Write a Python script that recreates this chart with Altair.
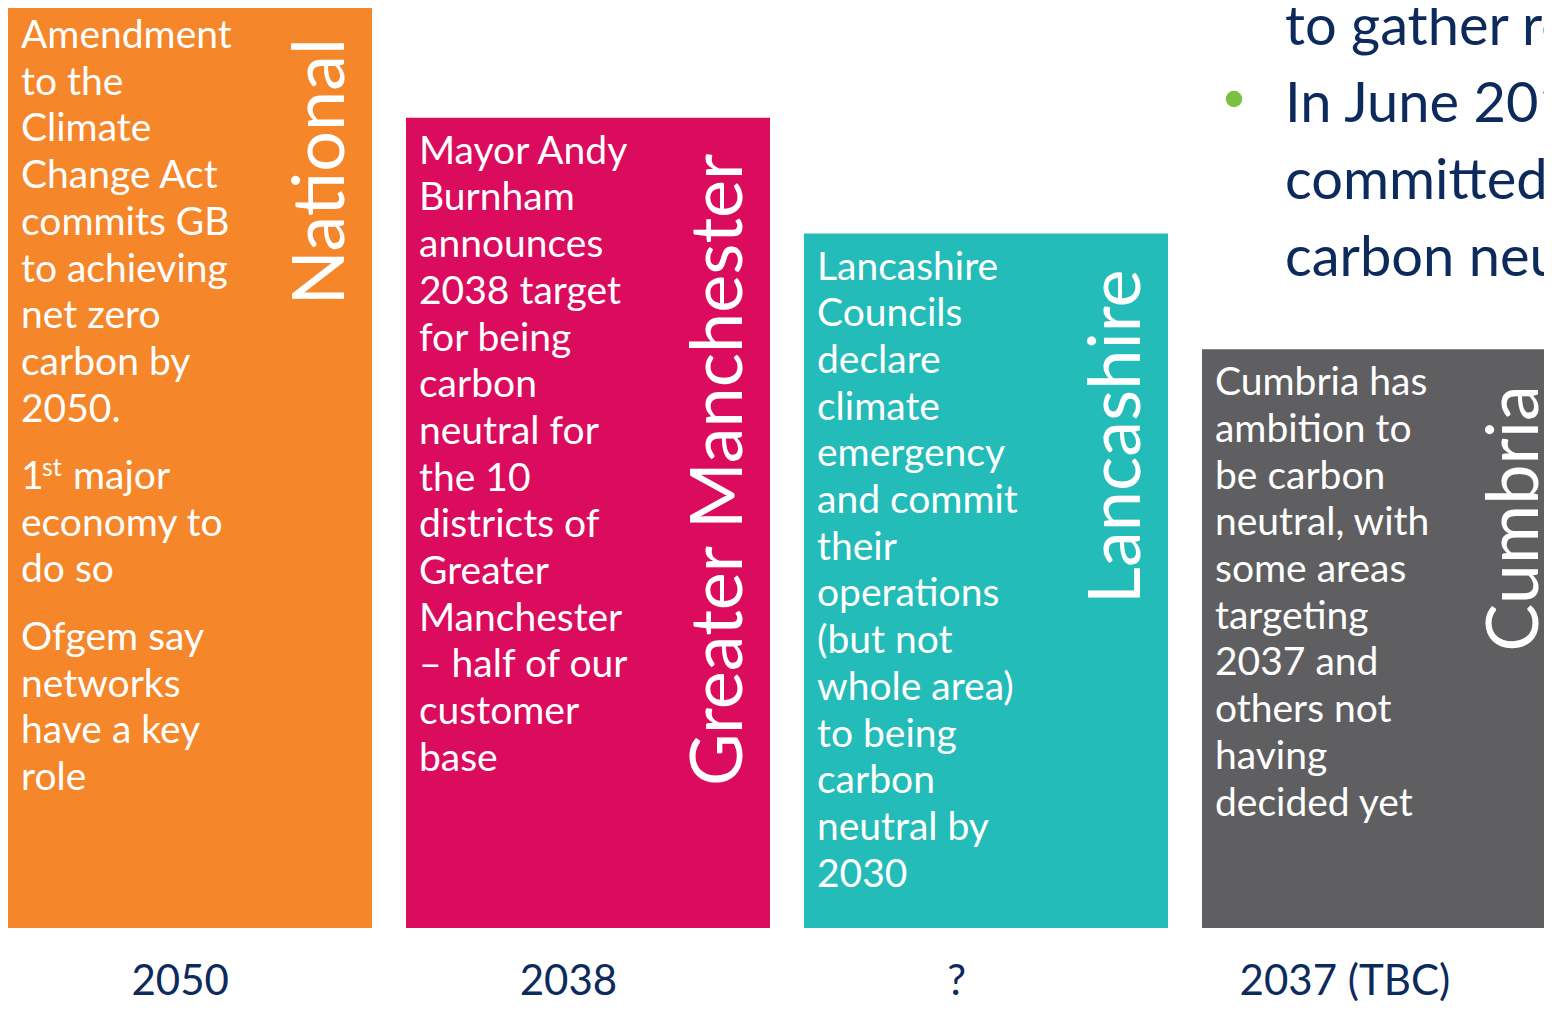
import altair as alt
import pandas as pd

# ---------------- data ----------------
categories = ["National", "Greater Manchester", "Lancashire", "Cumbria"]
levels = [8, 7, 6, 5]
bar_colors = ["#F5862A", "#DB0B5E", "#23BCB8", "#5F5F61"]
years = ["2050", "2038", "?", "2037 (TBC)"]

national_p1 = ["Amendment", "to the", "Climate", "Change Act", "commits GB",
               "to achieving", "net zero", "carbon by", "2050."]
national_p2_num = "1"
national_p2_sup = "st"
national_p2_word = "major"
national_p2_rest = ["economy to", "do so"]
national_p3 = ["Ofgem say", "networks", "have a key", "role"]
gm_lines = ["Mayor Andy", "Burnham", "announces", "2038 target", "for being",
            "carbon", "neutral for", "the 10", "districts of", "Greater",
            "Manchester", "\u2013 half of our", "customer", "base"]
lanc_lines = ["Lancashire", "Councils", "declare", "climate", "emergency",
              "and commit", "their", "operations", "(but not", "whole area)",
              "to being", "carbon", "neutral by", "2030"]
cumbria_lines = ["Cumbria has", "ambition to", "be carbon", "neutral, with",
                 "some areas", "targeting", "2037 and", "others not", "having",
                 "decided yet"]
bullet_lines = ["to gather re", "In June 201", "committed", "carbon neu"]

NAVY = "#0D2A5C"
GREEN = "#7AC143"
FONT = "Lato"
BODY = 39
LH = 46.7

bars = pd.DataFrame({"cat": categories, "level": levels})
first_para = pd.DataFrame({
    "cat": categories,
    "level": levels,
    "text": ["\n".join(national_p1), "\n".join(gm_lines),
             "\n".join(lanc_lines), "\n".join(cumbria_lines)],
})
nat = pd.DataFrame({"cat": [categories[0]], "level": [levels[0]]})

xs = alt.Scale(type="band", domain=categories, range=[0, 1558],
               paddingInner=0.0854, paddingOuter=0)
xs_years = alt.Scale(type="band", domain=categories, range=[-22, 1531],
                     paddingInner=0, paddingOuter=0)
ys = alt.Scale(domain=[0, 8], range=[920, -6], nice=False, zero=False)

X0 = alt.X("cat:N", scale=xs, axis=None, bandPosition=0)
X1 = alt.X("cat:N", scale=xs, axis=None, bandPosition=1)
Y = alt.Y("level:Q", scale=ys, axis=None)

bar_layer = alt.Chart(bars).mark_bar().encode(
    x=alt.X("cat:N", scale=xs, axis=None),
    y=Y,
    color=alt.Color("cat:N", scale=alt.Scale(domain=categories, range=bar_colors), legend=None),
)

def body(df, text, dx, dy, size=BODY):
    return alt.Chart(df).mark_text(
        align="left", baseline="alphabetic", dx=dx, dy=dy, font=FONT,
        fontSize=size, lineHeight=LH, lineBreak="\n", color="white",
    ).encode(x=X0, y=Y, text=text)

p1 = body(first_para, "text:N", 13, 46)
p2a = body(nat, alt.value(national_p2_num), 13, 487)
p2b = body(nat, alt.value(national_p2_sup), 34, 474, size=25)
p2c = body(nat, alt.value(national_p2_word), 65, 487)
p2d = body(nat, alt.value("\n".join(national_p2_rest)), 13, 487 + LH)
p3 = body(nat, alt.value("\n".join(national_p3)), 13, 648)

vertical = alt.Chart(bars).mark_text(
    angle=270, align="right", baseline="alphabetic", dx=-36, dy=-28,
    font=FONT, fontSize=72, color="white",
).encode(x=X1, y=Y, text="cat:N")

year_df = pd.DataFrame({"cat": categories, "year": years})
year_layer = alt.Chart(year_df).mark_text(
    align="center", baseline="alphabetic", dy=67, font=FONT, fontSize=42, color=NAVY,
).encode(
    x=alt.X("cat:N", scale=xs_years, axis=None),
    y=alt.datum(0),
    text="year:N",
)

bullet_df = pd.DataFrame({"text": ["\n".join(bullet_lines)]})
bullet_text = alt.Chart(bullet_df).mark_text(
    align="left", baseline="alphabetic", font=FONT, fontSize=56,
    lineHeight=77, lineBreak="\n", color=NAVY,
).encode(x=alt.value(1277), y=alt.value(37), text="text:N")

dot = alt.Chart(pd.DataFrame({"k": [1]})).mark_circle(
    size=270, color=GREEN, opacity=1
).encode(x=alt.value(1226), y=alt.value(91))

chart = alt.layer(
    bar_layer, p1, p2a, p2b, p2c, p2d, p3, vertical, year_layer, bullet_text, dot
).resolve_scale(x="independent").properties(
    width=1536, height=996, padding=0,
    autosize=alt.AutoSizeParams(type="none"),
    background="white",
).configure_view(stroke=None)

chart.save("out.html", embed_options={"renderer": "svg", "actions": False})
